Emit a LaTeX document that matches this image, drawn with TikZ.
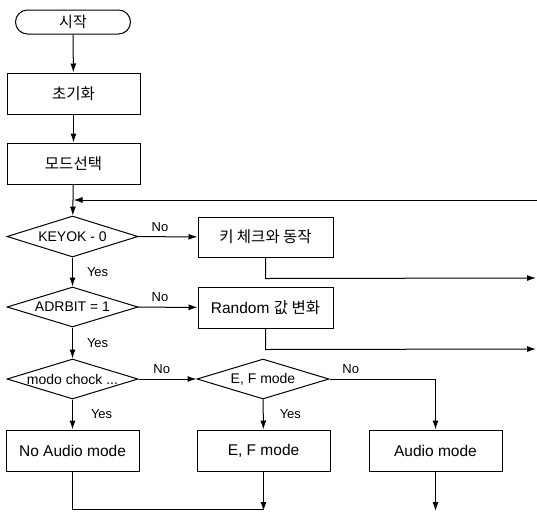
\documentclass[tikz,border=0pt]{standalone}
\usepackage{fontspec}
\setmainfont{Liberation Sans}
\newfontfamily\kr{Noto Sans CJK KR}
\usetikzlibrary{shapes.geometric,arrows.meta}
\begin{document}
\begin{tikzpicture}[x=1pt,y=-1pt,
  line width=1pt,
  every node/.style={inner sep=0pt},
  proc/.style={draw,rectangle,minimum width=133pt,minimum height=41pt,font=\fontsize{15.5}{17}\selectfont},
  dec/.style={draw,diamond,minimum width=131pt,minimum height=41pt,font=\fontsize{14}{16}\selectfont},
  term/.style={draw,rectangle,rounded corners=12pt,minimum width=115pt,minimum height=24pt,font=\fontsize{15}{17}\selectfont},
  lbl/.style={font=\fontsize{13}{15}\selectfont},
  arr/.style={-{Latex[length=9pt,width=6pt]}}]
\useasboundingbox (0,0) rectangle (537,512);
\node[term] (start) at (73,22) {\kr 시작};
\node[proc] (init) at (73.5,93.5) {\kr 초기화};
\node[proc] (mode) at (73.5,163.5) {\kr 모드선택};
\node[dec] (d1) at (72.5,236.5) {\makebox[0pt]{KEYOK - 0}};
\node[proc,minimum width=135pt,minimum height=40pt] (b1) at (265.5,237) {\kr 키 체크와 동작};
\node[dec,minimum height=40pt] (d2) at (72.5,307) {\makebox[0pt]{ADRBIT = 1}};
\node[proc,minimum width=135pt] (b2) at (265.5,307.5) {Random {\kr 값 변화}};
\node[dec,minimum height=40pt] (d3) at (72.5,379) {\makebox[0pt]{modo chock ...}};
\node[dec,minimum width=132pt,minimum height=40pt] (d4) at (263,379) {\makebox[0pt]{E, F mode}};
\node[proc] (b3) at (72.5,450.5) {No Audio mode};
\node[proc] (b4) at (263.5,450.5) {E, F mode};
\node[proc] (b5) at (435.5,450.5) {Audio mode};
\coordinate (fb) at (537,200);
\coordinate (e1) at (536,278);
\coordinate (e2) at (536,349);
\coordinate (o1) at (263.5,511);
\coordinate (o2) at (435.5,511);
\coordinate (j1) at (72.5,509);
\draw[arr] (start) -- (init);
\draw[arr] (init) -- (mode);
\draw[arr] (mode) -- (d1);
\draw[arr] (fb) -- (mode.south |- fb);
\draw[arr] (d1) -- (b1) node[lbl,pos=0.37,above=5pt] {No};
\draw[arr] (b1.south) -- ++(0,21) -- (e1);
\draw[arr] (d1) -- (d2) node[lbl,midway,right=14pt] {Yes};
\draw[arr] (d2) -- (b2) node[lbl,pos=0.37,above=5pt] {No};
\draw[arr] (b2.south) -- ++(0,21) -- (e2);
\draw[arr] (d2) -- (d3) node[lbl,midway,right=14pt] {Yes};
\draw[arr] (d3) -- (d4) node[lbl,pos=0.4,above=5pt] {No};
\draw[arr] (d3) -- (b3) node[lbl,midway,right=18pt] {Yes};
\draw[arr] (d4.east) -- (b5.north |- d4.east) node[lbl,pos=0.2,above=5pt] {No} -- (b5.north);
\draw[arr] (d4) -- (b4) node[lbl,midway,right=16pt] {Yes};
\draw[arr] (b4) -- (o1);
\draw (b3.south) -- (j1) -- (o1 |- j1);
\draw[arr] (b5) -- (o2);
\end{tikzpicture}
\end{document}
